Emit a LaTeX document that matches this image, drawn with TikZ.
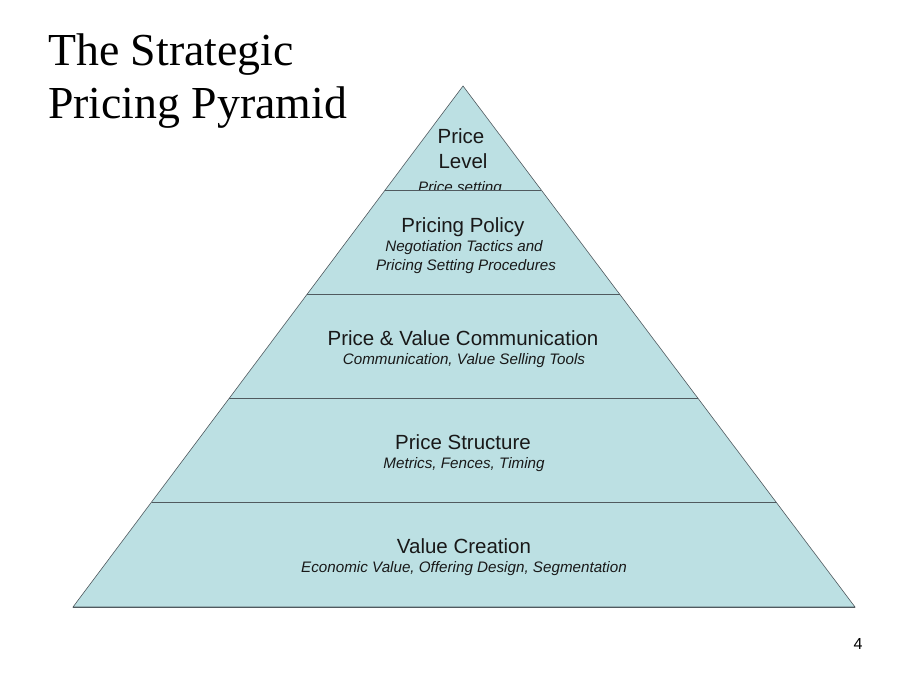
\documentclass[tikz,border=0pt]{standalone}
\usepackage{fontspec}
\usetikzlibrary{calc}
\setmainfont{Liberation Sans}
\newfontfamily\titlefont{Liberation Serif}
\definecolor{pyrfill}{RGB}{188,224,227}
\definecolor{pyrline}{RGB}{80,90,95}
\begin{document}
\begin{tikzpicture}[x=1pt,y=-1pt,
  layertitle/.style={anchor=base,inner sep=0pt,font=\fontsize{20.5}{24}\selectfont,text=black!90},
  layersub/.style={anchor=base,inner sep=0pt,font=\fontsize{15.2}{20}\selectfont\itshape,text=black!90},
  divider/.style={draw=pyrline,line width=0.8pt}]
\useasboundingbox (0,0) rectangle (920,690);
% pyramid
\coordinate (apex) at (463,86);
\coordinate (bl) at (73,607);
\coordinate (br) at (855,607);
\fill[pyrfill,draw=pyrline,line width=0.6pt] (apex) -- (br) -- (bl) -- cycle;
\foreach \yy/\nm in {190/a,294/b,398/c,502/d}{
  \pgfmathsetmacro{\tval}{(\yy-86)/521}
  \coordinate (L\nm) at ($(apex)!\tval!(bl)$);
  \coordinate (R\nm) at ($(apex)!\tval!(br)$);
}
\draw[divider] (bl) -- (br);
\foreach \nm in {a,b,c,d}{\draw[divider] (L\nm) -- (R\nm);}
% title
\node[anchor=base west,inner sep=0pt,font=\titlefont\fontsize{45.8}{54}\selectfont] (t1) at (48,66) {The Strategic};
\node[anchor=base west,inner sep=0pt,font=\titlefont\fontsize{45.8}{54}\selectfont] (t2) at (48,119) {Pricing Pyramid};
% top layer
\node[layertitle] (pl1) at (461,143) {Price};
\node[layertitle] (pl2) at (463,168) {Level};
\begin{scope}
\clip (0,0) rectangle (920,189.6);
\node[layersub] (pls) at (460,192.5) {Price setting};
\end{scope}
% pricing policy
\node[layertitle] (pp) at (463,232) {Pricing Policy};
\node[layersub] (pps1) at (464,251) {Negotiation Tactics and};
\node[layersub] (pps2) at (466,270) {Pricing Setting Procedures};
% price & value communication
\node[layertitle] (pv) at (463,345) {Price \& Value Communication};
\node[layersub] (pvs) at (464,364) {Communication, Value Selling Tools};
% price structure
\node[layertitle] (ps) at (463,449) {Price Structure};
\node[layersub] (pss) at (464,468) {Metrics, Fences, Timing};
% value creation
\node[layertitle] (vc) at (464,553) {Value Creation};
\node[layersub] (vcs) at (464,572) {Economic Value, Offering Design, Segmentation};
% page number
\node[anchor=base,inner sep=0pt,font=\fontsize{16}{18}\selectfont] (pg) at (858,649) {4};
\end{tikzpicture}
\end{document}
